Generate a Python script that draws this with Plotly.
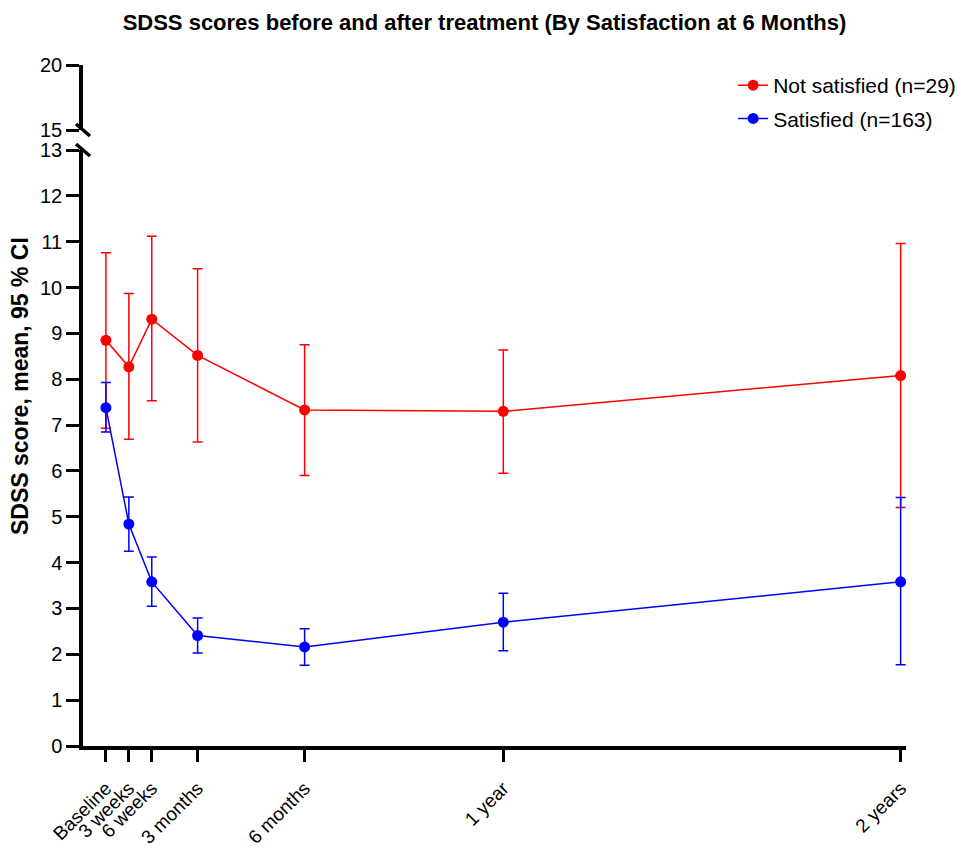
import plotly.graph_objects as go

# x positions in weeks after treatment
time_weeks = [0, 3, 6, 12, 26, 52, 104]
tick_labels = ["Baseline", "3 weeks", "6 weeks", "3 months", "6 months", "1 year", "2 years"]

ns_mean = [8.85, 8.27, 9.31, 8.52, 7.33, 7.30, 8.08]
ns_upper = [10.76, 9.87, 11.12, 10.41, 8.75, 8.64, 10.96]
ns_lower = [6.93, 6.69, 7.53, 6.63, 5.90, 5.95, 5.20]

s_mean = [7.38, 4.84, 3.58, 2.41, 2.16, 2.70, 3.58]
s_upper = [7.93, 5.43, 4.12, 2.79, 2.56, 3.33, 5.42]
s_lower = [6.85, 4.25, 3.05, 2.03, 1.76, 2.08, 1.77]

y_lower_ticks = list(range(0, 14))
y_upper_ticks = [15, 20]

FONT = "Arial, 'Liberation Sans', sans-serif"

def err(mean, up, lo):
    return dict(type="data", symmetric=False,
                array=[u - m for u, m in zip(up, mean)],
                arrayminus=[m - l for m, l in zip(mean, lo)],
                thickness=1.5, width=5)

fig = go.Figure()
fig.add_trace(go.Scatter(
    x=time_weeks, y=ns_mean, mode="lines+markers", name="Not satisfied (n=29)",
    line=dict(color="#FF0000", width=1.5), marker=dict(color="#FF0000", size=11),
    error_y=dict(color="#FF0000", **err(ns_mean, ns_upper, ns_lower)),
    legendgroup="a"))
fig.add_trace(go.Scatter(
    x=time_weeks, y=s_mean, mode="lines+markers", name="Satisfied (n=163)",
    line=dict(color="#0000FF", width=1.5), marker=dict(color="#0000FF", size=11),
    error_y=dict(color="#0000FF", **err(s_mean, s_upper, s_lower)),
    legendgroup="b"))
# empty trace to anchor the upper (broken) axis segment
fig.add_trace(go.Scatter(x=[None], y=[None], yaxis="y2", showlegend=False,
                         hoverinfo="skip"))

plot_top, plot_bottom = 65, 746
H = plot_bottom - plot_top
low_top = (plot_bottom - 150) / H
up_bot = (plot_bottom - 130) / H

axis_common = dict(showgrid=False, zeroline=False, showline=True, linecolor="black",
                   linewidth=3.5, ticks="outside", tickcolor="black", tickwidth=3,
                   ticklen=13, automargin=False,
                   tickfont=dict(family=FONT, size=20, color="black"))

fig.update_layout(
    width=969, height=849,
    margin=dict(l=83, r=63, t=plot_top, b=849 - plot_bottom, autoexpand=False),
    paper_bgcolor="white", plot_bgcolor="white",
    title=dict(text="<b>SDSS scores before and after treatment (By Satisfaction at 6 Months)</b>",
               x=0.5, xanchor="center", y=1 - 22 / 849, yanchor="middle",
               font=dict(family=FONT, size=22, color="black")),
    xaxis=dict(range=[-3, 104.7], tickvals=time_weeks, ticktext=tick_labels,
               tickangle=-45, ticklabelstandoff=8,
               **{**axis_common, "tickfont": dict(family=FONT, size=19, color="black"),
                  "ticklen": 12}),
    yaxis=dict(domain=[0, low_top], range=[0, 13], tickvals=y_lower_ticks, **axis_common),
    yaxis2=dict(domain=[up_bot, 1], range=[15, 20], tickvals=y_upper_ticks,
                anchor="x", **axis_common),
    legend=dict(x=0.79, y=1.0, xanchor="left", yanchor="top",
                font=dict(family=FONT, size=21, color="black"),
                bgcolor="rgba(0,0,0,0)", tracegroupgap=3),
    annotations=[dict(text="<b>SDSS score, mean, 95 % CI</b>", textangle=-90,
                      xref="paper", yref="paper", x=-63 / 823, y=(plot_bottom - 386) / H,
                      xanchor="center", yanchor="middle", showarrow=False,
                      font=dict(family=FONT, size=23, color="black"))],
)

# axis break marks
dx, dy = 7 / 823, 6 / H
for yc in (up_bot, low_top):
    fig.add_shape(type="line", xref="paper", yref="paper",
                  x0=-dx, y0=yc + dy, x1=dx, y1=yc - dy,
                  line=dict(color="black", width=3.5))

fig.write_html("out.html")
